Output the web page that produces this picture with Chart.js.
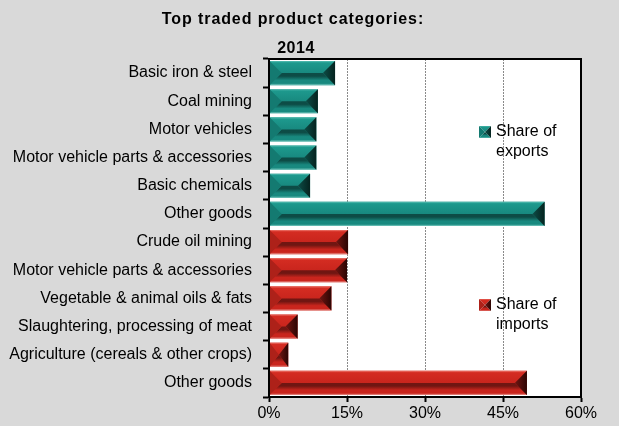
<!DOCTYPE html>
<html>
<head>
<meta charset="utf-8">
<script src="https://cdn.jsdelivr.net/npm/chart.js@4.4.1/dist/chart.umd.min.js"></script>
<style>
  html, body { margin: 0; padding: 0; background: #d9d9d9; }
  #wrap { width: 619px; height: 426px; position: relative; }
</style>
</head>
<body>
<div id="wrap"><canvas id="tradeChart"></canvas></div>
<script>
// top traded product categories, 2014 (share in %)
const categories = [
    'Basic iron & steel',
    'Coal mining',
    'Motor vehicles',
    'Motor vehicle parts & accessories',
    'Basic chemicals',
    'Other goods',
    'Crude oil mining',
    'Motor vehicle parts & accessories',
    'Vegetable & animal oils & fats',
    'Slaughtering, processing of meat',
    'Agriculture (cereals & other crops)',
    'Other goods'
]
const exportShare = [12.7, 9.4, 9.1, 9.1, 7.9, 53.0, null, null, null, null, null, null]
const importShare = [null, null, null, null, null, null, 15.2, 15.0, 12.0, 5.5, 3.7, 49.6]
const xTicks = [0, 15, 30, 45, 60]

const chartTitle = 'Top traded product categories:'
const yearLabel = '2014'
const legendLines = {
    exports: ['Share of', 'exports'],
    imports: ['Share of', 'imports']
}

const FONT = '"Liberation Sans", Arial, sans-serif'

// shades for the bevelled bars
const shades = {
    exports: {main: '#18897f', light: '#5cc0b5', top: '#1d998d', dark: '#0d4c46', rim: '#7ccbc2', left: '#147a71', right: '#05231f'},
    imports: {main: '#c9251d', light: '#ee7a70', top: '#d42c22', dark: '#701612', rim: '#e99690', left: '#ad2119', right: '#2c0503'}
}

function drawBevel(ctx, x0, x1, y0, y1, c) {
    const h = y1 - y0
    const w = x1 - x0
    if (w <= 0) return
    const ym = y0 + h / 2
    const d = Math.min(h / 2, w / 2)

    // upper face
    let g = ctx.createLinearGradient(0, y0, 0, ym)
    g.addColorStop(0, c.light)
    g.addColorStop(0.15, c.top)
    g.addColorStop(1, c.main)
    ctx.fillStyle = g
    ctx.beginPath()
    ctx.moveTo(x0, y0); ctx.lineTo(x1, y0); ctx.lineTo(x1 - d, ym); ctx.lineTo(x0 + d, ym)
    ctx.closePath(); ctx.fill()

    // lower face, darker band just under the ridge
    g = ctx.createLinearGradient(0, ym, 0, y1)
    g.addColorStop(0, c.dark)
    g.addColorStop(0.25, c.dark)
    g.addColorStop(0.6, c.main)
    g.addColorStop(0.85, c.main)
    g.addColorStop(1, c.rim)
    ctx.fillStyle = g
    ctx.beginPath()
    ctx.moveTo(x0 + d, ym); ctx.lineTo(x1 - d, ym); ctx.lineTo(x1, y1); ctx.lineTo(x0, y1)
    ctx.closePath(); ctx.fill()

    // left end
    ctx.fillStyle = c.left
    ctx.beginPath()
    ctx.moveTo(x0, y0); ctx.lineTo(x0 + d, ym); ctx.lineTo(x0, y1)
    ctx.closePath(); ctx.fill()

    // right end
    g = ctx.createLinearGradient(x1 - d, 0, x1, 0)
    g.addColorStop(0, c.dark)
    g.addColorStop(1, c.right)
    ctx.fillStyle = g
    ctx.beginPath()
    ctx.moveTo(x1, y0); ctx.lineTo(x1 - d, ym); ctx.lineTo(x1, y1)
    ctx.closePath(); ctx.fill()
}

const framePlugin = {
    id: 'frame',
    beforeDraw(chart) {
        const {ctx, chartArea: a} = chart
        ctx.save()
        ctx.fillStyle = '#d9d9d9'
        ctx.fillRect(0, 0, chart.width, chart.height)
        ctx.fillStyle = '#ffffff'
        ctx.fillRect(a.left, a.top, a.right - a.left, a.bottom - a.top)
        ctx.restore()
    },
    afterDatasetsDraw(chart) {
        const ctx = chart.ctx
        const keys = ['exports', 'imports']
        ctx.save()
        chart.data.datasets.forEach((ds, i) => {
            chart.getDatasetMeta(i).data.forEach((bar, j) => {
                if (ds.data[j] == null) return
                const p = bar.getProps(['x', 'y', 'base', 'height'], true)
                drawBevel(ctx, p.base, p.x, p.y - p.height / 2, p.y + p.height / 2, shades[keys[i]])
            })
        })
        ctx.restore()
    },
    afterDraw(chart) {
        const {ctx, chartArea: a} = chart
        ctx.save()
        // plot frame
        ctx.strokeStyle = '#000'
        ctx.lineWidth = 2
        ctx.strokeRect(a.left, a.top, a.right - a.left, a.bottom - a.top)

        // titles
        ctx.fillStyle = '#000'
        ctx.textAlign = 'center'
        ctx.textBaseline = 'alphabetic'
        ctx.font = 'bold 16px ' + FONT
        ctx.letterSpacing = '0.9px'
        ctx.fillText(chartTitle, 293, 24)
        ctx.letterSpacing = '0.5px'
        ctx.fillText(yearLabel, 296, 53)
        ctx.letterSpacing = '0px'

        // legend entries sitting inside the plot
        const entries = [
            {key: 'exports', y: 132},
            {key: 'imports', y: 305}
        ]
        entries.forEach(e => {
            drawBevel(ctx, 479, 491, e.y - 6, e.y + 6, shades[e.key])
            ctx.fillStyle = '#000'
            ctx.font = '16px ' + FONT
            ctx.textAlign = 'left'
            ctx.textBaseline = 'middle'
            legendLines[e.key].forEach((t, k) => ctx.fillText(t, 496, e.y + k * 20))
        })
        ctx.restore()
    }
}

new Chart(document.getElementById('tradeChart'), {
    type: 'bar',
    data: {
        labels: categories,
        datasets: [
            {label: 'Share of exports', data: exportShare, backgroundColor: shades.exports.main, barPercentage: 0.86, categoryPercentage: 1},
            {label: 'Share of imports', data: importShare, backgroundColor: shades.imports.main, barPercentage: 0.86, categoryPercentage: 1}
        ]
    },
    options: {
        indexAxis: 'y',
        responsive: true,
        maintainAspectRatio: false,
        devicePixelRatio: 1,
        animation: false,
        layout: {padding: {top: 59, right: 38, left: 0, bottom: 0}},
        plugins: {
            legend: {display: false},
            title: {display: false},
            tooltip: {enabled: false}
        },
        scales: {
            x: {
                stacked: true,
                min: 0,
                max: 60,
                afterBuildTicks: scale => { scale.ticks = xTicks.map(v => ({value: v})) },
                afterFit: scale => { scale.height = 29 },
                border: {color: '#000', width: 2, dash: [2, 1]},
                grid: {
                    color: ctx => (ctx.tick && (ctx.tick.value === 0 || ctx.tick.value === 60)) ? 'rgba(0,0,0,0)' : '#8a8a8a',
                    lineWidth: 1,
                    drawTicks: true,
                    tickLength: 5,
                    tickColor: '#000',
                    tickWidth: 2,
                    tickBorderDash: []
                },
                ticks: {
                    color: '#000',
                    padding: 2,
                    font: {family: FONT, size: 16},
                    callback: v => v + '%'
                }
            },
            y: {
                stacked: true,
                afterFit: scale => { scale.width = 269 },
                border: {color: '#000', width: 2},
                grid: {
                    offset: true,
                    drawOnChartArea: false,
                    drawTicks: true,
                    tickLength: 6,
                    tickColor: '#000',
                    tickWidth: 2
                },
                ticks: {
                    color: '#000',
                    padding: 11,
                    autoSkip: false,
                    font: {family: FONT, size: 16}
                }
            }
        }
    },
    plugins: [framePlugin]
})
</script>
</body>
</html>
